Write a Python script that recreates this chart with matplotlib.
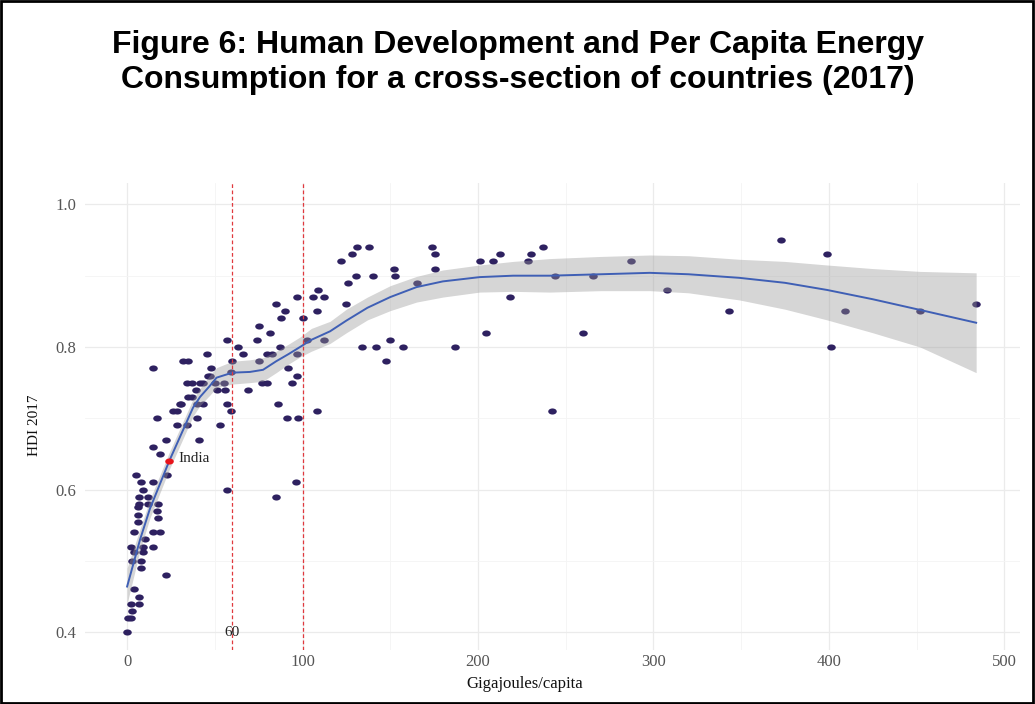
import matplotlib
matplotlib.use('Agg')
import matplotlib.pyplot as plt
from matplotlib.path import Path
from matplotlib.transforms import Affine2D
from matplotlib.patches import Rectangle

# puntos (energia per capita en GJ, HDI 2017)
energy = [0, 0.5, 2, 3, 2, 7, 7, 4, 22, 8, 3, 8, 4, 9, 2, 9, 15, 10, 4, 15,
          19, 6, 17.7, 6, 6, 17, 7, 12, 17.7, 7, 12, 9, 8, 15, 5, 23, 19, 15, 22,
          17, 26, 28.5, 30, 31, 40, 43, 28.5, 34, 53, 40, 41, 35, 37, 39, 51, 56,
          34, 37, 41.6, 46, 48, 15, 32, 35, 45.6, 57, 57, 59, 57, 43, 50, 55, 47,
          59, 60,
          63, 66, 69, 74, 75, 75, 77, 80, 80, 82.6, 81.5, 85, 86, 85, 87, 88, 90,
          91, 92, 94, 96, 97, 97, 97, 97.5, 100, 102.5, 106, 108, 108, 109, 112, 112,
          122, 125, 126, 128, 130.5, 131, 134, 138, 140, 142, 147.6, 150, 152, 153,
          157, 165, 174, 175.5, 175.5, 187, 201, 204.5, 208.5, 212.5, 218, 228.5,
          230, 237, 242, 244,
          260, 265.5, 287, 307.7, 343, 373, 399, 401, 409, 452, 484]
hdi = [0.40, 0.42, 0.42, 0.43, 0.44, 0.44, 0.45, 0.46, 0.48, 0.49, 0.50, 0.50,
       0.513, 0.513, 0.52, 0.52, 0.52, 0.53, 0.54, 0.54, 0.54, 0.555, 0.56, 0.565,
       0.575, 0.57, 0.58, 0.58, 0.58, 0.59, 0.59, 0.60, 0.61, 0.61, 0.62, 0.62,
       0.65, 0.66, 0.67, 0.70, 0.71, 0.71, 0.72, 0.72, 0.72, 0.72, 0.69, 0.69,
       0.69, 0.70, 0.67, 0.73, 0.73, 0.74, 0.74, 0.74, 0.75, 0.75, 0.75, 0.76,
       0.77, 0.77, 0.78, 0.78, 0.79, 0.81, 0.72, 0.71, 0.60, 0.75, 0.75, 0.75,
       0.76, 0.765, 0.78,
       0.80, 0.79, 0.74, 0.81, 0.83, 0.78, 0.75, 0.75, 0.79, 0.79, 0.82, 0.86,
       0.72, 0.59, 0.80, 0.84, 0.85, 0.70, 0.77, 0.75, 0.61, 0.87, 0.79, 0.76,
       0.70, 0.84, 0.81, 0.87, 0.85, 0.71, 0.88, 0.87, 0.81,
       0.92, 0.86, 0.89, 0.93, 0.90, 0.94, 0.80, 0.94, 0.90, 0.80, 0.78, 0.81,
       0.91, 0.90, 0.80, 0.89, 0.94, 0.93, 0.91, 0.80, 0.92, 0.82, 0.92, 0.93,
       0.87, 0.92, 0.93, 0.94, 0.71, 0.90,
       0.82, 0.90, 0.92, 0.88, 0.85, 0.95, 0.93, 0.80, 0.85, 0.85, 0.86]

# India
india_x = 24
india_y = 0.64

# curva suavizada (loess) y su banda
smooth_x = [0, 7.4, 13, 24, 37.6, 41.6, 47, 51, 60, 70, 77.5, 85, 92, 98.6, 105,
            115.7, 125, 137, 150, 165, 180, 201, 220, 241, 270, 298, 320, 349,
            375, 399, 425, 452, 484]
smooth_y = [0.464, 0.53, 0.573, 0.64, 0.715, 0.73, 0.745, 0.757, 0.764, 0.765,
            0.768, 0.78, 0.79, 0.80, 0.81, 0.822, 0.837, 0.855, 0.87, 0.884,
            0.892, 0.898, 0.90, 0.90, 0.902, 0.904, 0.902, 0.897, 0.89, 0.88,
            0.867, 0.852, 0.834]
band_low = [0.44, 0.515, 0.56, 0.628, 0.703, 0.718, 0.732, 0.743, 0.748, 0.75,
            0.752, 0.764, 0.776, 0.786, 0.794, 0.805, 0.82, 0.838, 0.851, 0.863,
            0.87, 0.877, 0.878, 0.877, 0.879, 0.879, 0.876, 0.866, 0.853, 0.838,
            0.82, 0.80, 0.764]
band_high = [0.49, 0.545, 0.586, 0.652, 0.727, 0.742, 0.76, 0.771, 0.78, 0.782,
             0.785, 0.794, 0.804, 0.814, 0.826, 0.836, 0.853, 0.87, 0.886, 0.899,
             0.908, 0.915, 0.92, 0.924, 0.927, 0.929, 0.928, 0.923, 0.92, 0.915,
             0.91, 0.906, 0.904]

umbrales = [60, 100]
xticks = [0, 100, 200, 300, 400, 500]
yticks = [0.4, 0.6, 0.8, 1.0]

fig = plt.figure(figsize=(10.35, 7.04), dpi=100)
ax = fig.add_axes([85/1035, 1-650/704, (1020-85)/1035, (650-183)/704])

# marcador eliptico (la imagen original esta estirada)
elipse = Path.unit_circle().transformed(Affine2D().scale(1.4, 1.0))

ax.scatter(energy, hdi, marker=elipse, s=38, color='#2e2160', linewidths=0, zorder=2)
ax.scatter([india_x], [india_y], marker=elipse, s=38, color='#e8141b', linewidths=0, zorder=5)
ax.text(india_x+5, india_y+0.003, 'India', family='Liberation Serif', fontsize=11,
        va='center', ha='left', color='#222222', zorder=6)

ax.fill_between(smooth_x, band_low, band_high, color='#999999', alpha=0.4, linewidth=0, zorder=3)
ax.plot(smooth_x, smooth_y, color='#3f5fb5', lw=1.4, zorder=4)

for u in umbrales:
    ax.axvline(u, color='#e0393e', lw=0.9, ls=(0, (3, 2)), zorder=4)
ax.text(60, 0.4, '60', family='Liberation Serif', fontsize=11, ha='center', va='center',
        color='#222222', zorder=6)

ax.set_xlim(-24, 509)
ax.set_ylim(0.375, 1.03)
ax.set_xticks(xticks)
ax.set_xticks([50, 150, 250, 350, 450], minor=True)
ax.set_yticks(yticks)
ax.set_yticks([0.5, 0.7, 0.9], minor=True)
ax.set_xticklabels([str(t) for t in xticks])
ax.set_yticklabels(['%.1f' % t for t in yticks])
ax.grid(True, which='major', color='#ebebeb', lw=0.9)
ax.grid(True, which='minor', color='#f4f4f4', lw=0.6)
ax.set_axisbelow(True)
for s in ax.spines.values():
    s.set_visible(False)
ax.tick_params(which='both', length=0, labelsize=12, labelcolor='#555555')
ax.tick_params(axis='x', pad=3)
ax.tick_params(axis='y', pad=6)
for lab in ax.get_xticklabels() + ax.get_yticklabels():
    lab.set_family('Liberation Serif')

fig.text(525/1035, 1-684/704, 'Gigajoules/capita', family='Liberation Serif', fontsize=12,
         ha='center', va='center', color='#111111')
fig.text(35/1035, 1-425/704, 'HDI 2017', family='Liberation Serif', fontsize=11,
         rotation=90, ha='center', va='center', color='#111111')

fig.text(0.5, 1-45/704, 'Figure 6: Human Development and Per Capita Energy',
         family='Liberation Sans', weight='bold', fontsize=23, ha='center', va='center')
fig.text(0.5, 1-80/704, 'Consumption for a cross-section of countries (2017)',
         family='Liberation Sans', weight='bold', fontsize=23, ha='center', va='center')

# marco negro alrededor de la figura
fig.patches.append(Rectangle((0.001, 0.001), 0.997, 0.997, transform=fig.transFigure,
                             fill=False, edgecolor='black', lw=2))

fig.savefig('out.png', dpi=100)
